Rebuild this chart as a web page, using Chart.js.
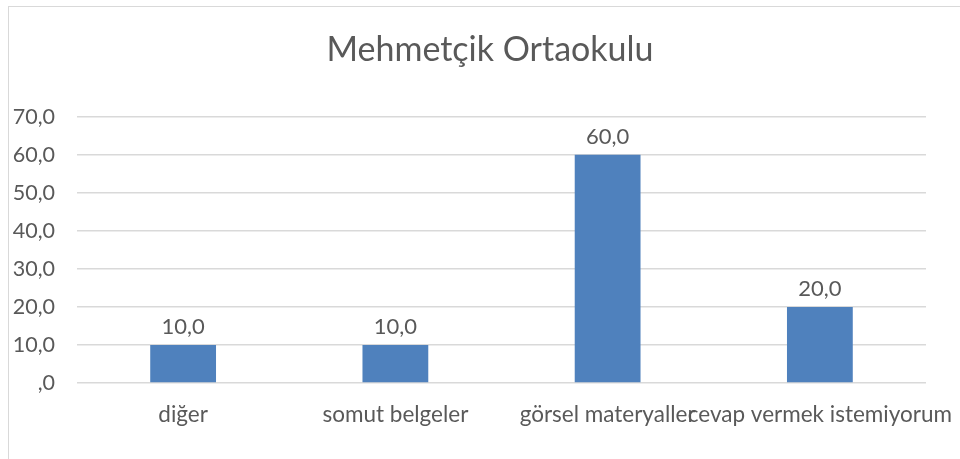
<!DOCTYPE html>
<html>
<head>
<meta charset="utf-8">
<script src="https://cdn.jsdelivr.net/npm/chart.js@4"></script>
<style>
  html, body { margin: 0; padding: 0; background: #fff; overflow: hidden; }
  body { width: 960px; height: 459px; position: relative; }
  #box {
    position: absolute; left: 8px; top: 6px; width: 962px; height: 453px;
    border-left: 1px solid #d9d9d9; border-top: 1px solid #d9d9d9;
  }
  #box canvas { display: block; }
</style>
</head>
<body>
<div id="box"><canvas id="chart" width="962" height="452"></canvas></div>
<script>
// veriler
const categories = ['diğer', 'somut belgeler', 'görsel materyaller', 'cevap vermek istemiyorum'];
const values = [10.0, 10.0, 60.0, 20.0];
const yTicks = [0, 10, 20, 30, 40, 50, 60, 70];

const textColor = '#595959';
const fontFamily = 'Lato, "Open Sans", sans-serif';

function fmt(v) {
    // Excel tarzı: 0 -> ",0"
    if (v === 0) return ',0';
    return v.toFixed(1).replace('.', ',');
}

const valueLabels = {
    id: 'valueLabels',
    afterDatasetsDraw(chart) {
        const ctx = chart.ctx;
        const meta = chart.getDatasetMeta(0);
        ctx.save();
        ctx.fillStyle = textColor;
        ctx.font = '22px ' + fontFamily;
        ctx.textAlign = 'center';
        ctx.textBaseline = 'bottom';
        meta.data.forEach((bar, i) => {
            ctx.fillText(fmt(values[i]), bar.x, bar.y - 7);
        });
        ctx.restore();
    }
};

new Chart(document.getElementById('chart').getContext('2d'), {
    type: 'bar',
    data: {
        labels: categories,
        datasets: [{
            data: values,
            backgroundColor: '#4f81bd',
            borderWidth: 0,
            categoryPercentage: 1.0,
            barPercentage: 0.31
        }]
    },
    options: {
        responsive: false,
        animation: false,
        layout: { padding: 0 },
        plugins: {
            legend: { display: false },
            tooltip: { enabled: false },
            title: {
                display: true,
                text: 'Mehmetçik Ortaokulu',
                color: textColor,
                font: { family: fontFamily, size: 34, weight: 'normal', lineHeight: 1.2 },
                padding: { top: 23, bottom: 46 }
            }
        },
        scales: {
            y: {
                min: 0,
                max: 70,
                afterBuildTicks: s => { s.ticks = yTicks.map(v => ({ value: v })); },
                afterFit: s => { s.width = 68; },
                ticks: {
                    color: textColor,
                    font: { family: fontFamily, size: 21.5 },
                    padding: 22,
                    callback: v => fmt(v)
                },
                grid: { color: '#d9d9d9', lineWidth: 1.5, drawTicks: false },
                border: { display: false }
            },
            // sağdaki boşluk için boş eksen
            yRight: {
                position: 'right',
                afterFit: s => { s.width = 45; },
                ticks: { display: false },
                grid: { display: false },
                border: { display: false }
            },
            x: {
                afterFit: s => { s.height = 76; },
                ticks: {
                    color: textColor,
                    font: { family: fontFamily, size: 22.5 },
                    padding: 10,
                    autoSkip: false,
                    maxRotation: 0,
                    minRotation: 0
                },
                grid: { display: false },
                border: { display: false }
            }
        }
    },
    plugins: [valueLabels]
});
</script>
</body>
</html>
